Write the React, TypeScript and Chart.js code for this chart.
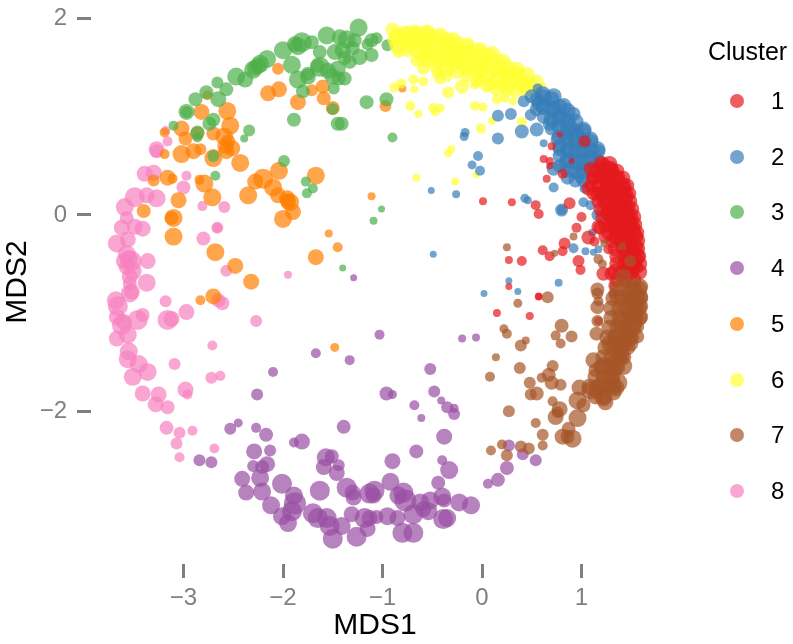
import React, { useEffect, useRef } from "react";
import { Chart, registerables } from "chart.js";

Chart.register(...registerables);

type P = [number, number, number];

const xTickValues = [-3, -2, -1, 0, 1];
const yTickValues = [-2, 0, 2];
const clusterNames = ["1", "2", "3", "4", "5", "6", "7", "8"];
const clusterColors = ["#E41A1C", "#377EB8", "#4DAF4A", "#984EA3", "#FF7F00", "#FFFF33", "#A65628", "#F781BF"];

const cluster1: P[] = [
  [1.22,0.5,8],[1.29,0.47,8],[1.35,0.37,8],[1.25,0.37,8],[1.41,0.27,8],[1.3,0.27,8],[1.22,0.23,8],[1.44,0.17,8],[1.34,0.13,8],[1.24,0.13,8],
  [1.46,0.07,8],[1.35,0.03,8],[1.27,0.02,8],[1.49,-0.03,8],[1.39,-0.07,8],[1.3,-0.1,8],[1.51,-0.13,8],[1.41,-0.17,8],[1.54,-0.22,8],[1.46,-0.27,8],
  [1.35,-0.23,8],[1.54,-0.33,8],[1.46,-0.37,8],[1.56,-0.43,8],[1.47,-0.47,8],[1.54,-0.53,8],[1.46,-0.57,8],[1.3,-0.6,7],[1.22,-0.6,7],[1.32,-0.72,5],
  [1.24,-0.22,7],[1.17,-0.12,7],[1.09,0.47,7],[1.12,0.37,7],[1.07,0.27,7],[1.2,0.4,7],[1.16,0.2,7],[1.03,0.75,6],[0.81,0.42,5],[0.65,0.37,4],
  [0.62,0.57,4],[0.68,0.55,4],[0.7,0.7,4],[0.78,0.82,3],[0.9,0.55,3],[0.68,0.5,3.5],[0.88,0.12,6],[1.0,-0.02,5],[0.95,-0.13,5],[0.54,0.1,5],
  [0.57,0.01,5],[0.3,0.13,4],[0.01,0.14,4],[1.07,-0.23,7],[1.13,-0.27,5],[0.83,-0.29,6],[0.81,-0.37,5],[0.61,-0.36,5],[0.68,-0.42,5],[0.97,-0.47,6],
  [0.99,-0.56,5],[0.4,-0.47,5],[0.27,-0.46,4],[0.27,-0.73,3.5],[0.57,-0.83,4],[1.27,-0.35,5],[1.19,-0.13,7],[0.15,-1.0,4],[0.48,-1.03,4],[1.17,-1.08,4.5],
  [1.32,-0.8,5],[0.57,-0.83,3.5],
  [1.2,0.52,8],[1.28,0.52,8],[1.15,0.45,8],[1.22,0.45,8],[1.3,0.45,8],[1.36,0.45,7],[1.12,0.38,7],[1.2,0.38,8],[1.28,0.38,8],[1.36,0.38,8],[1.42,0.38,7],
  [1.1,0.3,7],[1.18,0.3,8],[1.26,0.3,8],[1.34,0.3,8],[1.42,0.3,8],[1.46,0.3,7],[1.12,0.22,7],[1.2,0.22,8],[1.28,0.22,8],[1.36,0.22,8],[1.44,0.22,8],[1.48,0.22,7],
  [1.18,0.14,8],[1.26,0.14,8],[1.34,0.14,8],[1.42,0.14,8],[1.48,0.14,8],[1.2,0.06,8],[1.28,0.06,8],[1.36,0.06,8],[1.44,0.06,8],[1.5,0.06,8],
  [1.22,-0.02,8],[1.3,-0.02,8],[1.38,-0.02,8],[1.46,-0.02,8],[1.52,-0.02,8],[1.25,-0.1,8],[1.33,-0.1,8],[1.41,-0.1,8],[1.49,-0.1,8],[1.53,-0.1,8],
  [1.28,-0.18,8],[1.36,-0.18,8],[1.44,-0.18,8],[1.52,-0.18,8],[1.55,-0.18,8],[1.32,-0.26,8],[1.4,-0.26,8],[1.48,-0.26,8],[1.56,-0.26,8],
  [1.34,-0.34,8],[1.42,-0.34,8],[1.5,-0.34,8],[1.56,-0.34,8],[1.36,-0.42,8],[1.44,-0.42,8],[1.52,-0.42,8],[1.57,-0.42,8],
  [1.36,-0.5,8],[1.44,-0.5,8],[1.52,-0.5,8],[1.58,-0.5,8],[1.34,-0.58,8],[1.42,-0.58,8],[1.5,-0.58,8],[1.58,-0.58,8],[1.36,-0.66,8],[1.44,-0.66,8],[1.52,-0.66,8]
];

const cluster2: P[] = [
  [0.5,1.21,7],[0.61,1.23,8],[0.72,1.21,8],[0.58,1.13,8],[0.72,1.08,8],[0.82,1.11,8],[0.78,0.97,8],[0.92,1.03,7],[0.88,0.9,8],[1.02,0.87,8],
  [0.96,0.8,8],[1.09,0.77,8],[0.85,0.8,8],[1.16,0.67,8],[1.02,0.67,8],[0.88,0.67,8],[0.78,0.67,7],[1.09,0.57,8],[0.96,0.53,8],[0.85,0.53,8],
  [0.72,0.47,7],[1.0,0.4,8],[0.75,0.77,6],[0.68,0.93,7],[0.42,1.16,6],[0.49,1.02,6],[0.55,0.87,7],[0.4,0.85,7],[0.62,0.73,4],[0.29,1.03,6],
  [0.16,1.01,6],[0.16,0.78,6],[0.56,1.29,5],[-0.17,0.84,4.5],[-0.18,0.8,4.5],[-0.04,0.6,5],[-0.1,0.51,4.5],[-0.02,0.45,5],[-0.51,0.25,3.5],[-0.26,0.21,4],
  [-0.49,-0.4,3.5],[0.43,0.17,4.5],[0.46,0.15,4],[0.72,0.28,5],[0.8,0.05,6.5],[0.8,0.05,5],[1.02,0.13,5],[1.09,0.1,5],[1.16,0.0,6],[1.03,0.27,5],
  [1.16,0.4,4],[0.92,-0.34,5],[1.04,-0.37,4],[1.11,-0.18,4],[1.17,-0.35,4],[1.12,-0.38,3.5],[0.77,-0.69,4],[0.27,-0.67,3.5],[0.36,-0.78,3.5],[0.02,-0.8,3.5],
  [0.55,1.18,7],[0.55,1.08,7],[0.62,1.2,8],[0.62,1.1,8],[0.62,1.0,7],[0.7,1.18,8],[0.7,1.08,8],[0.7,0.98,8],[0.7,0.88,7],
  [0.78,1.1,8],[0.78,1.0,8],[0.78,0.9,8],[0.78,0.8,8],[0.78,0.7,7],[0.78,0.6,7],[0.78,0.5,7],
  [0.86,1.06,8],[0.86,0.96,8],[0.86,0.86,8],[0.86,0.76,8],[0.86,0.66,8],[0.86,0.56,8],[0.86,0.46,8],[0.86,0.38,7],
  [0.94,0.95,8],[0.94,0.85,8],[0.94,0.75,8],[0.94,0.65,8],[0.94,0.55,8],[0.94,0.45,8],[0.94,0.35,7],
  [1.02,0.85,8],[1.02,0.75,8],[1.02,0.65,8],[1.02,0.55,8],[1.02,0.45,8],[1.02,0.35,7],[1.1,0.75,7],[1.1,0.65,8],[1.1,0.55,8],[1.1,0.45,7],[1.17,0.65,7],[1.17,0.55,7]
];

const cluster3: P[] = [
  [-1.56,1.83,9],[-1.81,1.76,10],[-1.88,1.74,8],[-1.71,1.76,7],[-2.0,1.68,9],[-2.16,1.59,9],[-2.23,1.54,9],[-2.3,1.48,9],[-2.47,1.41,9],[-2.38,1.38,8],
  [-1.91,1.53,9],[-1.85,1.38,9],[-1.75,1.41,8],[-1.63,1.51,10],[-1.5,1.41,8],[-1.48,1.66,8],[-1.63,1.66,7],[-1.8,1.26,7],[-1.89,0.97,7],[-1.49,1.29,6],
  [-1.5,1.08,6],[-1.45,0.93,7],[-2.66,1.35,6],[-2.57,1.28,7],[-2.77,1.25,7],[-2.65,1.18,8],[-2.88,1.18,7],[-2.97,1.05,8],[-2.97,1.05,6],[-2.7,0.97,7],
  [-2.74,0.93,7],[-2.86,0.84,7],[-2.86,0.79,5],[-3.1,0.91,5],[-2.34,0.86,6],[-2.39,0.78,4],[-2.7,0.6,6],[-1.99,0.55,6],[-2.68,0.4,5],[-1.77,0.34,5],
  [-1.7,0.27,5],[-1.76,0.22,5],[-1.24,1.91,9],[-1.36,1.79,9],[-1.4,1.68,8],[-1.28,1.78,7],[-1.23,1.61,8],[-1.11,1.78,7],[-1.06,1.8,6],[-1.15,1.74,6],
  [-1.11,1.63,7],[-0.95,1.73,6],[-1.38,1.39,7],[-1.44,1.39,7],[-1.16,1.15,7],[-0.96,1.18,7],[-1.41,0.93,7],[-0.9,0.79,5],[-1.01,0.06,3.5],[-1.09,-0.06,4],
  [-1.4,-0.54,3.5],[-1.43,1.81,8],[-1.3,1.7,7],[-1.55,1.47,8],[-1.65,1.52,7],[-1.75,1.44,7],[-1.33,1.56,7],[-1.45,1.49,8],[-1.38,1.6,7],[-2.25,1.52,8],[-2.28,1.5,8],[-1.85,1.72,9]
];

const cluster4: P[] = [
  [-1.67,-1.41,5],[-1.33,-1.48,5],[-2.1,-1.6,5],[-2.26,-1.83,6],[-1.39,-2.16,7],[-2.45,-2.12,4.5],[-2.53,-2.18,6],[-2.27,-2.17,5],[-2.17,-2.24,7],[-1.81,-2.31,8],
  [-1.89,-2.32,5],[-2.13,-2.4,6],[-2.29,-2.41,8],[-2.84,-2.5,6],[-2.72,-2.52,6],[-2.3,-2.56,6],[-2.16,-2.54,8],[-2.21,-2.57,7],[-1.57,-2.47,9],[-1.51,-2.46,7],
  [-1.59,-2.57,8],[-1.44,-2.55,6],[-1.46,-2.63,8],[-2.41,-2.69,8],[-2.23,-2.68,9],[-2.37,-2.83,8],[-2.21,-2.82,9],[-2.01,-2.74,10],[-1.63,-2.81,10],[-1.36,-2.78,10],
  [-1.3,-2.83,8],[-1.29,-2.88,8],[-2.12,-2.96,9],[-1.89,-2.86,9],[-1.88,-2.94,11],[-1.91,-3.02,10],[-2.01,-3.07,9],[-1.95,-3.14,9],[-1.7,-3.04,10],[-1.65,-3.09,10],
  [-1.56,-3.09,10],[-1.53,-3.17,10],[-1.5,-3.3,10],[-1.41,-3.17,9],[-1.31,-3.05,8],[-1.26,-3.28,10],[-1.18,-3.09,10],[-1.13,-2.84,10],[-1.03,-1.22,5],[-0.2,-1.26,4],
  [-0.06,-1.25,4],[-0.52,-1.57,6],[-0.96,-1.82,7],[-0.9,-1.83,4.5],[-0.48,-1.8,6],[-0.41,-1.89,4],[-0.68,-1.94,5],[-0.61,-2.07,4],[-0.35,-1.96,6],[-0.28,-1.97,4.5],
  [-0.28,-2.03,6],[-0.38,-2.26,8],[-0.66,-2.41,7],[-0.9,-2.51,8],[-0.4,-2.5,5],[-0.33,-2.6,9],[-0.92,-2.72,9],[-0.44,-2.73,7],[-1.08,-2.81,10],[-1.09,-2.86,8],
  [-0.79,-2.83,10],[-0.84,-2.86,9],[-0.77,-2.91,11],[-0.4,-2.87,9],[-0.52,-2.91,9],[-0.62,-2.93,9],[-0.38,-2.91,7],[-0.23,-2.93,9],[-0.11,-2.96,9],[-0.69,-3.05,10],
  [-0.59,-3.0,8],[-0.54,-3.02,9],[-0.95,-3.07,9],[-0.85,-3.09,8],[-1.06,-3.08,7],[-1.13,-3.09,8],[-0.39,-3.1,10],[-0.35,-3.09,9],[-0.8,-3.24,10],[-0.69,-3.24,10],
  [-1.15,-3.2,8],[0.25,-2.58,7],[0.16,-2.7,7],[0.06,-2.74,5],[0.54,-2.5,6],[0.41,-2.44,6],[0.27,-2.35,6],[-1.29,-0.64,3.5]
];

const cluster5: P[] = [
  [-2.05,1.49,6],[-2.04,1.28,8],[-2.15,1.24,8],[-1.85,1.15,8],[-1.71,1.27,6],[-1.6,1.31,7],[-1.59,1.19,7],[-1.5,1.09,7],[-2.76,1.22,5],[-2.82,1.05,8],
  [-2.56,1.06,9],[-2.53,0.91,9],[-2.59,0.8,9],[-3.02,0.88,8],[-3.19,0.84,5],[-2.98,0.78,7],[-2.86,0.83,7],[-2.7,0.83,7],[-2.51,0.68,8],[-2.57,0.65,8],
  [-3.02,0.62,9],[-2.9,0.65,8],[-2.83,0.67,6],[-2.7,0.58,9],[-2.43,0.53,9],[-3.19,0.62,5],[-3.16,0.38,8],[-3.3,0.35,6],[-3.11,0.37,5],[-2.79,0.32,9],
  [-2.84,0.36,5],[-2.71,0.18,9],[-3.05,0.15,8],[-3.4,0.04,7],[-3.1,-0.03,9],[-3.12,-0.03,7],[-3.1,-0.22,9],[-2.68,-0.38,9],[-2.48,-0.52,8],[-2.32,-0.68,8],
  [-2.7,-0.83,8],[-2.83,-0.87,5],[-1.67,0.4,9],[-2.04,0.45,9],[-2.2,0.37,10],[-2.28,0.34,8],[-2.1,0.28,9],[-2.35,0.2,9],[-2.05,0.2,8],[-1.96,0.17,8],
  [-1.93,0.13,9],[-1.9,0.03,8],[-2.0,-0.04,9],[-1.95,0.14,8],[-1.54,-0.19,4],[-1.67,-0.43,8],[-1.45,-0.33,5],[-1.11,0.19,4],[-0.97,1.11,6],[-0.8,1.29,4],
  [-1.48,-1.35,4.5],[-2.58,0.7,8],[-2.55,0.75,7]
];

const cluster6: P[] = [
  [-0.9,1.89,7],[-0.87,1.79,8],[-0.79,1.84,8],[-0.67,1.86,8],[-0.55,1.86,8],[-0.42,1.83,8],[-0.29,1.78,8],[-0.15,1.73,8],[-0.02,1.68,8],[0.1,1.64,8],
  [0.21,1.56,8],[0.35,1.48,8],[0.45,1.43,8],[0.55,1.36,7],[-0.75,1.74,8],[-0.62,1.73,8],[-0.49,1.71,8],[-0.35,1.68,8],[-0.22,1.64,8],[-0.09,1.61,8],
  [0.05,1.54,8],[0.18,1.48,8],[0.31,1.41,8],[0.41,1.33,8],[-0.84,1.66,6],[-0.59,1.61,8],[-0.45,1.58,8],[-0.29,1.54,8],[-0.15,1.51,8],[-0.02,1.41,7],
  [0.08,1.34,7],[0.21,1.33,7],[-0.59,1.49,6],[-0.42,1.39,6],[-0.34,1.25,6],[-0.2,1.31,7],[-0.07,1.33,5],[0.15,1.18,5],[0.23,1.19,4.5],[0.31,1.16,4],
  [-0.69,1.38,5],[-0.59,1.36,5],[-0.81,1.34,5],[-0.88,1.3,5],[-0.68,1.28,4],[-0.72,1.11,5],[-0.64,1.03,4],[-0.49,1.09,5],[-0.42,1.09,4.5],[-0.47,1.05,4.5],
  [-0.07,1.11,5],[0.01,1.1,4.5],[0.1,0.96,4],[-0.01,0.88,5],[0.4,0.95,5],[-0.31,0.67,4],[-0.34,0.63,4],[-0.66,0.38,4],[-0.27,0.34,4],[-0.06,0.41,3.5],
  [0.61,1.32,3.5],[0.0,1.5,7],[0.25,1.4,7],[-0.3,1.62,8],[-0.55,1.77,8],
  [-0.85,1.82,8],[-0.85,1.72,8],[-0.75,1.85,8],[-0.75,1.78,8],[-0.75,1.68,7],[-0.65,1.84,8],[-0.65,1.78,8],[-0.65,1.68,8],[-0.65,1.58,7],
  [-0.55,1.84,8],[-0.55,1.76,8],[-0.55,1.66,8],[-0.55,1.58,8],[-0.45,1.8,8],[-0.45,1.72,8],[-0.45,1.62,8],[-0.45,1.52,8],[-0.45,1.45,6],
  [-0.35,1.78,8],[-0.35,1.7,8],[-0.35,1.6,8],[-0.35,1.5,8],[-0.35,1.42,6],[-0.25,1.74,8],[-0.25,1.66,8],[-0.25,1.56,8],[-0.25,1.46,7],
  [-0.15,1.7,8],[-0.15,1.6,8],[-0.15,1.5,8],[-0.15,1.42,7],[-0.05,1.66,8],[-0.05,1.56,8],[-0.05,1.46,8],[-0.05,1.36,6],
  [0.05,1.62,8],[0.05,1.52,8],[0.05,1.42,8],[0.05,1.32,7],[0.15,1.58,7],[0.15,1.48,8],[0.15,1.38,8],[0.15,1.28,7],
  [0.25,1.5,8],[0.25,1.42,8],[0.25,1.32,8],[0.25,1.26,6],[0.35,1.44,8],[0.35,1.36,8],[0.35,1.26,7],[0.45,1.36,7],[0.45,1.28,7],[0.52,1.3,6]
];

const cluster7: P[] = [
  [0.36,-0.9,4.5],[0.66,-0.84,6],[0.22,-1.16,4.5],[0.25,-1.21,5],[0.44,-1.28,4],[0.39,-1.33,6],[0.8,-1.13,7],[0.74,-1.23,5],[0.9,-1.24,6],[0.79,-1.31,5],
  [0.14,-1.45,4],[0.38,-1.56,6],[0.08,-1.65,5],[0.71,-1.54,6],[0.67,-1.63,7],[0.6,-1.66,5],[0.7,-1.71,7],[0.79,-1.73,6],[0.48,-1.71,6],[0.49,-1.83,6],
  [0.55,-1.82,7],[0.71,-1.9,5],[0.27,-2.0,6],[0.78,-1.98,8],[0.74,-2.06,8],[0.76,-2.01,6],[0.54,-2.12,5],[0.61,-2.24,6],[0.61,-2.35,5],[0.96,-2.07,9],
  [0.87,-2.18,7],[0.81,-2.26,8],[0.91,-2.28,9],[0.86,-2.26,7],[0.09,-2.4,5],[0.2,-2.34,5],[0.25,-2.45,6],[0.39,-2.36,6],[0.47,-2.38,6],[0.96,-1.89,9],
  [1.02,-1.94,7],[0.98,-1.76,8],[1.12,-1.48,8],[1.14,-1.58,7],[1.16,-0.94,7],[1.16,-1.08,6],[1.15,-1.21,7],[1.16,-0.8,6],[1.52,-0.87,9],[1.54,-0.93,9],
  [1.51,-1.04,9],[1.52,-1.11,9],[1.46,-1.19,9],[1.47,-1.24,9],[1.42,-1.31,9],[1.37,-1.37,9],[1.39,-1.44,9],[1.34,-1.51,9],[1.32,-1.57,9],[1.3,-1.66,9],
  [1.22,-1.72,9],[1.16,-1.78,9],[1.09,-1.79,9],[1.22,-1.86,9],[1.24,-1.91,8],[1.34,-1.76,9],[1.32,-1.81,8],[1.36,-1.71,10],[1.49,-1.31,8],[1.56,-1.24,7],
  [1.56,-1.14,7],[1.42,-1.54,9],[1.59,-0.93,8],[1.59,-1.04,8],[1.29,-1.31,9],[1.22,-1.54,9],[1.42,-0.63,8],[1.52,-0.73,8],[1.49,-0.8,9],[1.36,-0.83,8],
  [1.16,-0.76,7],[1.17,-0.45,5],[1.21,-0.5,4.5],[1.49,-0.47,6],[0.92,-0.22,4],[0.25,-0.33,4],[1.23,-0.29,4],[1.41,-0.32,4],[0.73,-0.39,3.5],[1.59,-0.73,8],
  [1.59,-0.83,8],[1.17,-0.88,5],[1.45,-0.95,9],[1.4,-1.1,9],[1.35,-1.25,9],
  [1.36,-0.75,8],[1.44,-0.75,8],[1.52,-0.75,8],[1.58,-0.75,8],[1.32,-0.85,8],[1.4,-0.85,8],[1.48,-0.85,8],[1.56,-0.85,8],[1.6,-0.85,7],
  [1.3,-0.95,8],[1.38,-0.95,8],[1.46,-0.95,8],[1.54,-0.95,8],[1.58,-0.95,8],[1.3,-1.05,8],[1.38,-1.05,8],[1.46,-1.05,8],[1.54,-1.05,8],[1.58,-1.05,8],
  [1.28,-1.15,8],[1.36,-1.15,8],[1.44,-1.15,8],[1.52,-1.15,8],[1.26,-1.25,8],[1.34,-1.25,8],[1.42,-1.25,8],[1.5,-1.25,8],
  [1.24,-1.35,8],[1.32,-1.35,8],[1.4,-1.35,8],[1.46,-1.35,8],[1.22,-1.45,8],[1.3,-1.45,8],[1.38,-1.45,8],[1.42,-1.45,8],
  [1.2,-1.55,8],[1.28,-1.55,8],[1.36,-1.55,8],[1.14,-1.65,8],[1.22,-1.65,8],[1.3,-1.65,8],[1.08,-1.75,8],[1.16,-1.75,8],[1.24,-1.75,8],[1.32,-1.75,8],[1.14,-1.85,8],[1.22,-1.85,8]
];

const cluster8: P[] = [
  [-3.16,0.75,5],[-3.18,0.86,4.5],[-3.27,0.67,8],[-3.27,0.65,7],[-3.39,0.42,8],[-3.3,0.43,8],[-2.97,0.4,5],[-3.0,0.28,7],[-2.81,0.09,5],[-2.59,0.08,6],
  [-2.66,-0.13,6],[-2.66,-0.13,5],[-2.8,-0.24,7],[-2.57,-0.57,6],[-1.95,-0.61,4],[-3.18,-0.88,6],[-2.65,-0.87,7],[-3.49,0.18,10],[-3.37,0.2,8],[-3.27,0.17,9],
  [-3.59,0.08,9],[-3.57,-0.03,7],[-3.62,-0.13,8],[-3.49,-0.12,8],[-3.41,-0.14,8],[-3.67,-0.29,9],[-3.56,-0.25,8],[-3.57,-0.4,9],[-3.52,-0.47,10],[-3.36,-0.47,8],
  [-3.57,-0.53,8],[-3.51,-0.57,9],[-3.54,-0.63,8],[-3.37,-0.69,9],[-3.54,-0.7,7],[-3.52,-0.78,8],[-3.68,-0.87,9],[-3.6,-0.47,8],[-3.55,-0.45,9],[-3.66,-0.93,10],
  [-3.54,-0.8,9],[-3.67,-1.04,8],[-3.41,-1.02,7],[-3.46,-1.07,10],[-3.62,-1.12,10],[-3.6,-1.09,8],[-3.56,-1.22,9],[-3.67,-1.26,8],[-3.16,-1.07,10],[-3.12,-1.06,8],
  [-2.97,-0.99,8],[-2.61,-0.9,7],[-2.27,-1.08,6],[-2.71,-1.33,5],[-3.55,-1.39,9],[-3.56,-1.47,9],[-3.45,-1.52,9],[-3.36,-1.6,9],[-3.51,-1.65,9],[-3.09,-1.52,6],
  [-2.72,-1.66,6],[-2.63,-1.64,5],[-3.41,-1.82,8],[-3.25,-1.83,8],[-3.28,-1.93,8],[-3.16,-1.96,7],[-2.98,-1.78,8],[-2.96,-1.83,5],[-3.17,-2.17,7],[-3.04,-2.22,6],
  [-2.91,-2.2,5],[-3.07,-2.33,6],[-2.69,-2.38,5],[-3.04,-2.47,5]
];

const clusterPoints = [cluster1, cluster2, cluster3, cluster4, cluster5, cluster6, cluster7, cluster8];
// Which cluster is painted on top of which (smaller order lies on top).
const paintOrder = [2, 3, 5, 7, 6, 4, 1, 8];

const TICK_FONT = { family: '"Liberation Sans", Arial, sans-serif', size: 24 };
const TITLE_FONT = { family: '"Liberation Sans", Arial, sans-serif', size: 30 };
const label = (v: number) => (v < 0 ? "\u2212" + Math.abs(v) : String(v));
const pxPerUnit = 99.5;
const rgba = (hex: string, a: number) => {
  const n = parseInt(hex.slice(1), 16);
  return `rgba(${n >> 16},${(n >> 8) & 255},${n & 255},${a})`;
};
// The chart area is allowed to start above the canvas edge, so no axis may claim room for its labels.
const noOverhang = (s: any) => {
  s.paddingTop = s.paddingBottom = s.paddingLeft = s.paddingRight = 0;
  s.getPadding = () => ({ left: 0, right: 0, top: -8, bottom: 0 });
};

export default function App() {
  const ref = useRef<HTMLCanvasElement>(null);
  useEffect(() => {
    const chart = new Chart(ref.current!, {
      type: "bubble",
      data: {
        datasets: clusterPoints.map((pts, i) => ({
          label: clusterNames[i],
          data: pts.map(([x, y, s]) => ({ x, y, r: s })),
          backgroundColor: rgba(clusterColors[i], 0.7),
          borderWidth: 0,
          hoverBorderWidth: 0,
          clip: false as any,
          order: paintOrder[i],
        })),
      },
      options: {
        responsive: false,
        animation: false,
        events: [],
        layout: { autoPadding: false, padding: { left: 0, right: 134, top: -8, bottom: 0 } },
        plugins: { legend: { display: false }, tooltip: { enabled: false } },
        scales: {
          x: {
            type: "linear",
            min: (91 - 482) / pxPerUnit,
            max: (659 - 482) / pxPerUnit,
            afterBuildTicks: (s: any) => { s.ticks = xTickValues.map((value) => ({ value })); },
            afterFit: (s: any) => { s.height = 80; noOverhang(s); },
            border: { display: false },
            grid: { drawOnChartArea: false, drawTicks: true, tickLength: 14, tickWidth: 3, tickColor: "#7f7f7f" },
            ticks: { color: "#7f7f7f", font: TICK_FONT, padding: 6, maxRotation: 0, callback: (v: any) => label(Number(v)) },
            title: { display: true, text: "MDS1", color: "#000", font: TITLE_FONT, padding: { top: 0, bottom: 0 } },
          },
          y: {
            type: "linear",
            min: (210 - 564) / pxPerUnit,
            max: (210 + 8) / pxPerUnit,
            afterBuildTicks: (s: any) => { s.ticks = yTickValues.map((value) => ({ value })); },
            afterFit: (s: any) => { s.width = 91; noOverhang(s); },
            border: { display: false },
            grid: { drawOnChartArea: false, drawTicks: true, tickLength: 14, tickWidth: 3, tickColor: "#7f7f7f" },
            ticks: { color: "#7f7f7f", font: TICK_FONT, padding: 10, callback: (v: any) => label(Number(v)) },
            title: { display: true, text: "MDS2", color: "#000", font: TITLE_FONT, padding: { top: 0, bottom: 0 } },
          },
        },
      },
    } as any);
    return () => chart.destroy();
  }, []);

  const legendFont = '"Liberation Sans", Arial, sans-serif';
  return (
    <div style={{ position: "fixed", left: 0, top: 0, width: 793, height: 644, background: "#fff" }}>
      <canvas ref={ref} width={793} height={644} style={{ display: "block" }} />
      <div style={{ position: "absolute", left: 708, top: 36, font: `25px ${legendFont}`, lineHeight: "30px", color: "#000" }}>Cluster</div>
      {clusterNames.map((n, i) => (
        <React.Fragment key={n}>
          <div style={{ position: "absolute", left: 730, top: 94 + i * 55.7, width: 14, height: 14, borderRadius: 7, background: rgba(clusterColors[i], 0.7) }} />
          <div style={{ position: "absolute", left: 771, top: 86 + i * 55.7, font: `24px ${legendFont}`, lineHeight: "30px", color: "#000" }}>{n}</div>
        </React.Fragment>
      ))}
    </div>
  );
}
